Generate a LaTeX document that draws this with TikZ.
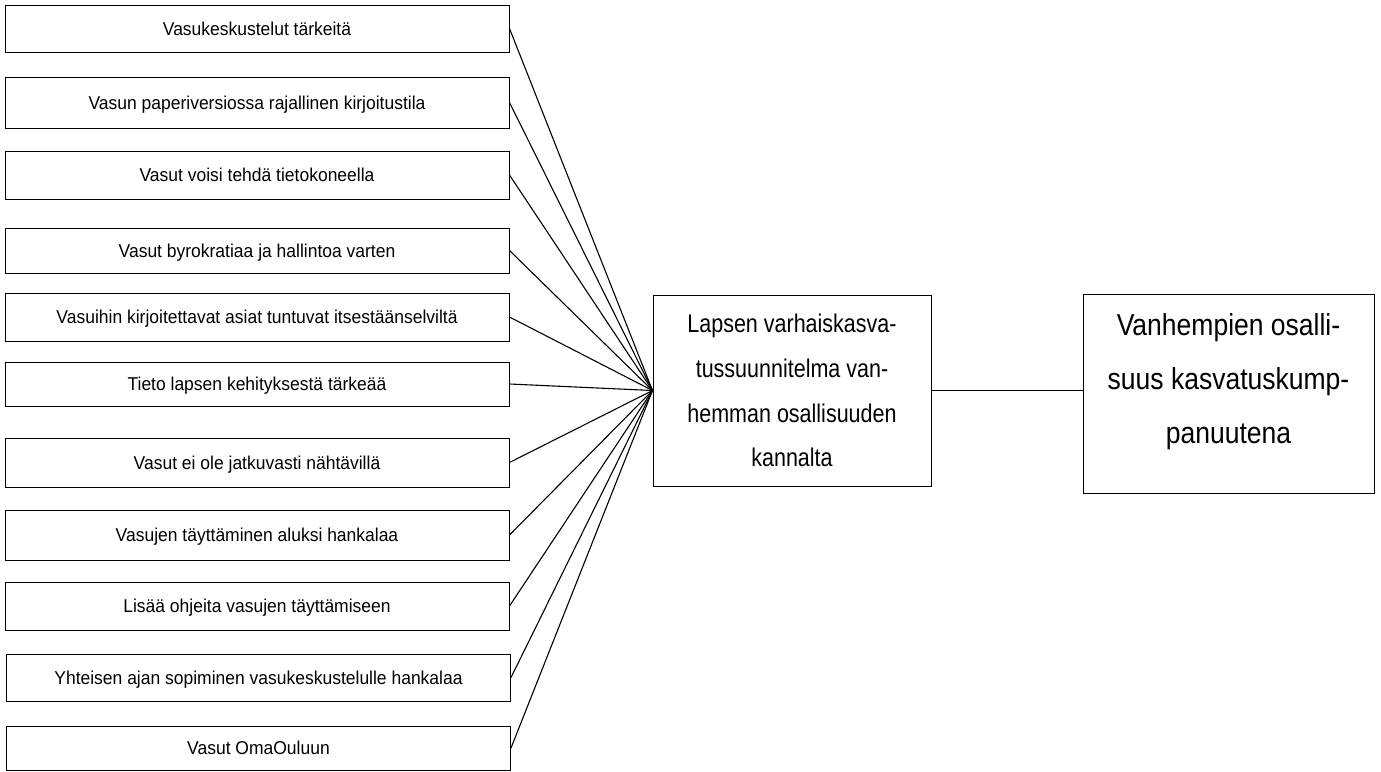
\documentclass[tikz,border=0pt]{standalone}
\usepackage{fontspec}
\setmainfont{Liberation Sans}
\newfontfamily\leftfont[FakeStretch=0.94]{Liberation Sans}
\newfontfamily\cfont[FakeStretch=0.84]{Liberation Sans}
\newfontfamily\rfont[FakeStretch=0.875]{Liberation Sans}
\begin{document}
\begin{tikzpicture}[x=1pt,y=-1pt,
  leftbox/.style={draw, line width=1pt, minimum width=504pt, inner sep=0pt,
    font=\leftfont\fontsize{18.6}{22}\selectfont, text height=13pt, text depth=0pt},
  bigbox/.style={draw, line width=1pt, inner sep=0pt},
  conn/.style={line width=1.1pt}]
\useasboundingbox (0,0) rectangle (1381,771);
\node[leftbox, minimum height=47pt] (b1) at (257,28.5) {Vasukeskustelut tärkeitä};
\node[leftbox, minimum height=51pt] (b2) at (257,102.5) {Vasun paperiversiossa rajallinen kirjoitustila};
\node[leftbox, minimum height=48pt] (b3) at (257,175) {Vasut voisi tehdä tietokoneella};
\node[leftbox, minimum height=45pt] (b4) at (257,250.5) {Vasut byrokratiaa ja hallintoa varten};
\node[leftbox, minimum height=48pt] (b5) at (257,317) {Vasuihin kirjoitettavat asiat tuntuvat itsestäänselviltä};
\node[leftbox, minimum height=44pt] (b6) at (257,384) {Tieto lapsen kehityksestä tärkeää};
\node[leftbox, minimum height=49pt] (b7) at (257,462.5) {Vasut ei ole jatkuvasti nähtävillä};
\node[leftbox, minimum height=50pt] (b8) at (257,535) {Vasujen täyttäminen aluksi hankalaa};
\node[leftbox, minimum height=48pt] (b9) at (257,606) {Lisää ohjeita vasujen täyttämiseen};
\node[leftbox, minimum height=47pt] (b10) at (258.5,677.5) {Yhteisen ajan sopiminen vasukeskustelulle hankalaa};
\node[leftbox, minimum height=44pt] (b11) at (258.5,748) {Vasut OmaOuluun};

\node[bigbox, minimum width=278pt, minimum height=191pt, align=center,
  font=\cfont\fontsize{25.6}{44.7}\selectfont] (c) at (792,390.5)
  {Lapsen varhaiskasva-\\tussuunnitelma van-\\hemman osallisuuden\\kannalta};

\node[bigbox, minimum width=291pt, minimum height=199pt] (r) at (1228.5,393.5) {};
\node[align=center, inner sep=0pt, font=\rfont\fontsize{30.3}{54}\selectfont] (rt) at (1228.5,381.5)
  {Vanhempien osalli-\\suus kasvatuskump-\\panuutena};

\foreach \i in {1,...,11} {
  \draw[conn] (b\i.east) -- (c.west);
}
\draw[conn] (c.east) -- (c.east -| r.west);
\end{tikzpicture}
\end{document}
